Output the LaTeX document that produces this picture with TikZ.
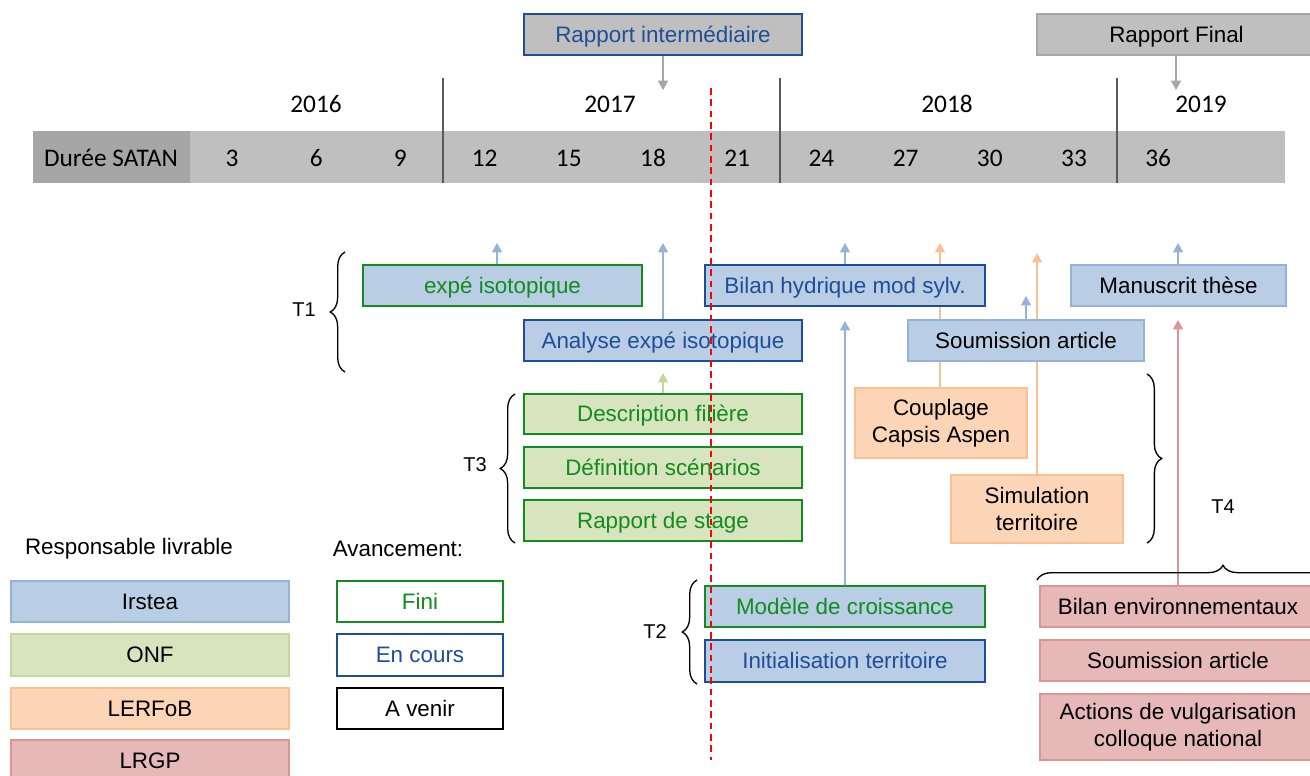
\documentclass[tikz,border=0pt]{standalone}
\usepackage{fontspec}
\setmainfont{Liberation Sans}
\newfontfamily\calib{Carlito}
\usetikzlibrary{arrows.meta,decorations.pathreplacing,backgrounds}
\definecolor{bluefill}{HTML}{B9CDE5}
\definecolor{blueline}{HTML}{95B3D7}
\definecolor{darkblue}{HTML}{1F4E99}
\definecolor{dgreen}{HTML}{118C1E}
\definecolor{greenfill}{HTML}{D7E4BD}
\definecolor{greenarrow}{HTML}{C3D69B}
\definecolor{orangefill}{HTML}{FBD5B5}
\definecolor{orangeline}{HTML}{FAC090}
\definecolor{pinkfill}{HTML}{E6B9B8}
\definecolor{pinkline}{HTML}{D99694}
\definecolor{grayfill}{HTML}{BFBFBF}
\definecolor{graydark}{HTML}{A6A6A6}
\definecolor{sepline}{HTML}{595959}
\newcommand{\bx}[7]{\node[box,#6,minimum width={(#4-#2)*0.75pt},minimum height={(#5-#3)*0.75pt}] (#1) at ({(#2+#4)/2},{(#3+#5)/2}) {#7};}
\tikzset{
  box/.style={draw, rectangle, inner sep=0pt, align=center, line width=1.2pt,
    font=\fontsize{16.8}{20.5}\selectfont, text height=15.2pt, text depth=3.56pt},
  ml/.style={text height={}, text depth={}},
  irstea/.style={fill=bluefill, draw=blueline, text=black},
  onf/.style={fill=greenfill, draw=greenarrow, text=black},
  lerfob/.style={fill=orangefill, draw=orangeline, text=black},
  lrgp/.style={fill=pinkfill, draw=pinkline, text=black},
  fini/.style={draw=dgreen, text=dgreen},
  encours/.style={draw=darkblue, text=darkblue},
  avenir/.style={draw=black, text=black},
  arr/.style={line width=1.1pt, -{Triangle[width=7.5pt,length=7pt]}},
  tlabel/.style={font=\fontsize{15}{17}\selectfont, inner sep=0pt},
  legtitle/.style={font=\fontsize{16.8}{20}\selectfont, inner sep=0pt},
  tl/.style={font=\calib\fontsize{19}{21}\selectfont, inner sep=0pt, anchor=base},
  brc/.style={decorate, decoration={brace, amplitude=11pt}, line width=1pt, black},
}
\begin{document}
\begin{tikzpicture}[x=0.75pt,y=-0.75pt]
\useasboundingbox (0,0) rectangle (1310,775);
\begin{scope}
\clip (0,0) rectangle (1310,775);
% timeline bar
\fill[grayfill] (33,131) rectangle (1285,183);
\fill[graydark] (33,131) rectangle (190,183);
\node[tl] (duree) at (111,166) {Durée SATAN};
\foreach \m [count=\i] in {3,6,9,12,15,18,21,24,27,30,33,36}{
  \node[tl] (m\m) at ({232+84.2*(\i-1)},166) {\m};
}
\node[tl] (y2016) at (316,112) {2016};
\node[tl] (y2017) at (610,112) {2017};
\node[tl] (y2018) at (947,112) {2018};
\node[tl] (y2019) at (1201,112) {2019};
\foreach \x in {443,780,1117}{
  \draw[sepline, line width=0.9pt] (\x,78) -- (\x,183);
}
% top reports
\bx{ri}{524}{14}{802}{55}{fill=grayfill, draw=darkblue, text=darkblue}{Rapport intermédiaire}
\bx{rf}{1037}{14}{1316}{55}{fill=grayfill, draw=graydark, text=black}{Rapport Final}
% T1
\bx{expe}{363}{265}{642}{306}{fill=bluefill, draw=dgreen, text=dgreen}{expé isotopique}
\bx{analyse}{524}{320}{802}{361}{fill=bluefill, draw=darkblue, text=darkblue}{Analyse expé isotopique}
\bx{bilanh}{705}{265}{985}{306}{fill=bluefill, draw=darkblue, text=darkblue}{Bilan hydrique mod sylv.}
\bx{manus}{1071}{265}{1286}{306}{irstea}{Manuscrit thèse}
\bx{soum}{908}{320}{1144}{361}{irstea}{Soumission article}
\bx{coupl}{855}{388}{1027}{458}{lerfob,ml}{Couplage\\Capsis Aspen}
\bx{simul}{951}{475}{1123}{543}{lerfob,ml}{Simulation\\territoire}
% T3
\bx{desc}{524}{394}{802}{434}{fill=greenfill, draw=dgreen, text=dgreen}{Description filière}
\bx{defi}{524}{447}{802}{488}{fill=greenfill, draw=dgreen, text=dgreen}{Définition scénarios}
\bx{rapst}{524}{500}{802}{541}{fill=greenfill, draw=dgreen, text=dgreen}{Rapport de stage}
% T2
\bx{modele}{705}{586}{985}{627}{fill=bluefill, draw=dgreen, text=dgreen}{Modèle de croissance}
\bx{init}{705}{640}{985}{682}{fill=bluefill, draw=darkblue, text=darkblue}{Initialisation territoire}
% T4
\bx{benv}{1040}{586}{1316}{627}{lrgp}{Bilan environnementaux}
\bx{soum2}{1040}{640}{1316}{681}{lrgp}{Soumission article}
\bx{actions}{1040}{694}{1316}{760}{lrgp,ml}{Actions de vulgarisation\\colloque national}
% legend
\node[legtitle] (resp) at (129,549) {Responsable livrable};
\node[legtitle] (avanc) at (398,549) {Avancement:};
\bx{lirstea}{11}{581}{289}{622}{irstea}{Irstea}
\bx{lonf}{11}{634}{289}{676}{onf}{ONF}
\bx{llerfob}{11}{688}{289}{729}{lerfob}{LERFoB}
\bx{llrgp}{11}{740}{289}{781}{lrgp}{LRGP}
\bx{lfini}{337}{581}{503}{622}{fini}{Fini}
\bx{lencours}{337}{634}{503}{676}{encours}{En cours}
\bx{lavenir}{337}{688}{503}{729}{avenir}{A venir}
% braces and labels
\draw[brc] (345,372) -- (345,252);
\node[tlabel] (t1) at (304,310) {T1};
\draw[brc] (515,543) -- (515,394);
\node[tlabel] (t3) at (475,465) {T3};
\draw[brc] (697,684) -- (697,580);
\node[tlabel] (t2) at (655,632) {T2};
\draw[brc] (1147,374) -- (1147,543);
\draw[brc] (1037,580) -- (1409,580);
\node[tlabel] (t4) at (1223,507) {T4};
\end{scope}
% arrows behind boxes
\coordinate (riA) at (663,90);
\coordinate (rfA) at (1176,90);
\coordinate (expeA) at (497,243);
\coordinate (analyseA) at (663,243);
\coordinate (descA) at (663,373);
\coordinate (bilanhA) at (845,243);
\coordinate (modeleA) at (845,321);
\coordinate (couplA) at (940,243);
\coordinate (simulA) at (1037,253);
\coordinate (soumA) at (1026,296);
\coordinate (manusA) at (1178,243);
\coordinate (benvA) at (1178,320);
\begin{scope}[on background layer]
\draw[arr, graydark] (ri.south -| riA) -- (riA);
\draw[arr, graydark] (rf.south -| rfA) -- (rfA);
\draw[arr, blueline] (expe.north -| expeA) -- (expeA);
\draw[arr, blueline] (analyse.north) -- (analyseA);
\draw[arr, greenarrow] (desc.north) -- (descA);
\draw[arr, blueline] (bilanh.north -| bilanhA) -- (bilanhA);
\draw[arr, blueline] (modele.north -| modeleA) -- (modeleA);
\draw[arr, orangeline] (coupl.north -| couplA) -- (couplA);
\draw[arr, orangeline] (simul.north -| simulA) -- (simulA);
\draw[arr, blueline] (soum.north -| soumA) -- (soumA);
\draw[arr, blueline] (manus.north -| manusA) -- (manusA);
\draw[arr, pinkline] (benv.north -| benvA) -- (benvA);
\end{scope}
% current date line
\coordinate (nowTop) at (711,88);
\coordinate (nowBot) at (711,760);
\draw[red, line width=1.1pt, dash pattern=on 5pt off 3.5pt] (nowTop) -- (nowBot);
\end{tikzpicture}
\end{document}
